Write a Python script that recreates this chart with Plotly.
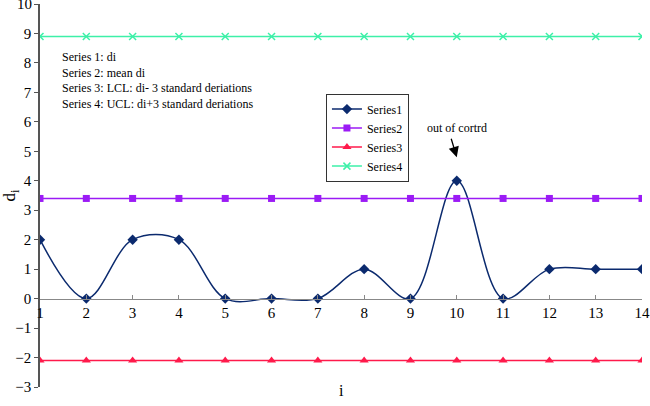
import plotly.graph_objects as go

x_vals = list(range(1, 15))
series1 = [2, 0, 2, 2, 0, 0, 0, 1, 0, 4, 0, 1, 1, 1]
series2 = [3.4] * 14
series3 = [-2.1] * 14
series4 = [8.9] * 14
names = ["Series1", "Series2", "Series3", "Series4"]
colors = ["#0B2A6E", "#9B1BF5", "#FF1A4B", "#3DF0A8"]
symbols = ["diamond", "square", "triangle-up", "x-thin"]
y_ticks = list(range(-3, 11))
x_ticks = list(range(1, 15))

FONT = "Liberation Serif"

fig = go.Figure()
fig.add_trace(go.Scatter(x=x_vals, y=series1, name=names[0], mode="lines+markers",
                         line=dict(color=colors[0], width=1.5, shape="spline", smoothing=1.0),
                         marker=dict(symbol=symbols[0], size=8, color=colors[0])))
fig.add_trace(go.Scatter(x=x_vals, y=series2, name=names[1], mode="lines+markers",
                         line=dict(color=colors[1], width=1.5),
                         marker=dict(symbol=symbols[1], size=7, color=colors[1])))
fig.add_trace(go.Scatter(x=x_vals, y=series3, name=names[2], mode="lines+markers",
                         line=dict(color=colors[2], width=1.5),
                         marker=dict(symbol=symbols[2], size=8, color=colors[2])))
fig.add_trace(go.Scatter(x=x_vals, y=series4, name=names[3], mode="lines+markers",
                         line=dict(color=colors[3], width=1.5),
                         marker=dict(symbol=symbols[3], size=7, color=colors[3],
                                     line=dict(color=colors[3], width=1.5))))

fig.update_layout(
    width=650, height=406,
    margin=dict(l=40, r=8, t=4, b=19),
    paper_bgcolor="white", plot_bgcolor="white",
    font=dict(family=FONT, size=15, color="black"),
    showlegend=True,
    legend=dict(x=0.475, y=0.766, xanchor="left", yanchor="top",
                bordercolor="#333333", borderwidth=1, bgcolor="white",
                font=dict(family=FONT, size=12), tracegroupgap=0, itemwidth=30),
    xaxis=dict(range=[1, 14], tickvals=x_ticks, ticktext=[str(v) for v in x_ticks],
               showgrid=False, zeroline=False, showline=True, linecolor="#888888", linewidth=1,
               anchor="free", position=3/13, ticks="inside", ticklen=4, tickcolor="#888888",
               tickfont=dict(family=FONT, size=15), automargin=False),
    yaxis=dict(range=[-3, 10], tickvals=y_ticks,
               showgrid=False, zeroline=False, automargin=False,
               showline=True, linecolor="#555555", linewidth=1.5, ticks="outside",
               ticklen=4, tickcolor="#555555", tickfont=dict(family=FONT, size=15),
               title=dict(text="d<sub>i</sub>", font=dict(family=FONT, size=17), standoff=4)),
)

# top tick label (Plotly drops it at the very edge of the figure)
fig.add_annotation(xref="paper", yref="y", x=0, y=y_ticks[-1], xanchor="right", yanchor="middle",
                   xshift=-6, text=str(y_ticks[-1]), showarrow=False,
                   font=dict(family=FONT, size=15))

fig.add_annotation(xref="paper", yref="paper", x=0.5, y=-0.01, yanchor="middle",
                   text="i", showarrow=False, font=dict(family=FONT, size=16))

fig.add_annotation(xref="paper", yref="paper", x=0.033, y=0.885, xanchor="left", yanchor="top",
                   align="left",
                   text="Series 1: di<br>Series 2: mean di<br>Series 3: LCL: di- 3 standard deriations<br>Series 4: UCL: di+3 standard deriations",
                   showarrow=False, font=dict(family=FONT, size=12))

fig.add_annotation(x=10, y=5.8, text="out of cortrd", showarrow=False,
                   font=dict(family=FONT, size=12))
fig.add_annotation(x=10, y=4.8, text="", showarrow=True, arrowhead=2, arrowsize=1.6,
                   arrowwidth=1.3, arrowcolor="black", ax=-6, ay=-20)

fig.write_html("out.html")
